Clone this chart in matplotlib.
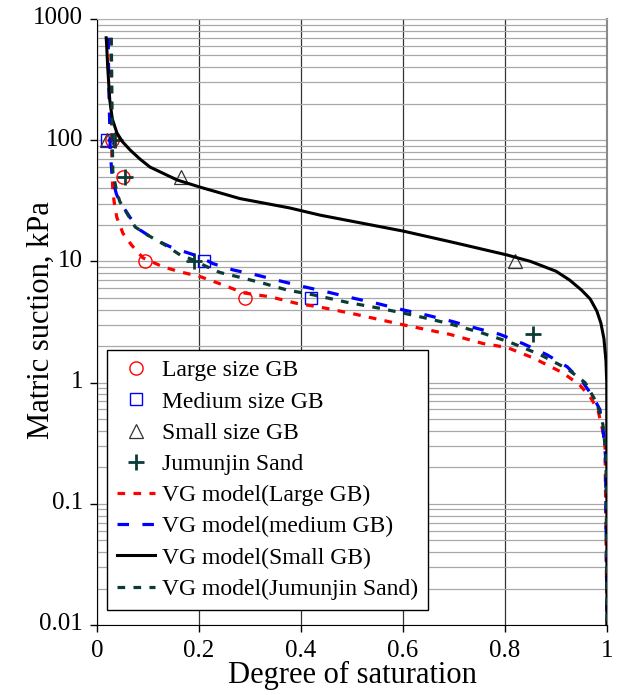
import numpy as np
import matplotlib
matplotlib.use('Agg')
import matplotlib.pyplot as plt
from matplotlib.ticker import FixedLocator, FixedFormatter, LogLocator, NullFormatter
from matplotlib.transforms import ScaledTranslation

plt.rcParams['font.family'] = ['Liberation Serif', 'DejaVu Serif']

# measured points
large_S = [0.03, 0.05, 0.095, 0.29]
large_psi = [100, 50, 10, 5]
medium_S = [0.02, 0.21, 0.42]
medium_psi = [100, 10, 5]
small_S = [0.02, 0.165, 0.82]
small_psi = [100, 50, 10]
jum_S = [0.035, 0.055, 0.19, 0.855]
jum_psi = [100, 50, 10, 2.5]

# VG model curves
vg_large_S = [0.027, 0.028, 0.029, 0.030, 0.031, 0.035, 0.039, 0.051, 0.068, 0.09, 0.13, 0.163,
              0.202, 0.247, 0.287, 0.34, 0.392, 0.437, 0.502, 0.6, 0.692, 0.757, 0.804, 0.855,
              0.914, 0.947, 0.967, 0.982, 0.99, 0.996, 1.0]
vg_large_psi = [700, 200, 80, 50, 38, 28, 23, 17, 13.6, 10.7, 9.0, 8.2,
                7.5, 6.4, 5.5, 5.1, 4.5, 4.2, 3.7, 3.0, 2.5, 2.1, 1.95, 1.6,
                1.2, 0.95, 0.76, 0.6, 0.43, 0.32, 0.01]

vg_medium_S = [0.022, 0.023, 0.025, 0.026, 0.029, 0.032, 0.038, 0.045, 0.065, 0.084, 0.114, 0.147,
               0.202, 0.227, 0.267, 0.314, 0.359, 0.404, 0.451, 0.5, 0.549, 0.598, 0.647, 0.696,
               0.745, 0.79, 0.835, 0.882, 0.922, 0.953, 0.973, 0.986, 0.992, 0.997, 1.0]
vg_medium_psi = [700, 300, 130, 80, 55, 45, 36, 31, 23, 18.2, 15.1, 13.0,
                 10.9, 9.6, 8.5, 7.7, 6.9, 6.2, 5.6, 5.0, 4.5, 4.0, 3.6, 3.2,
                 2.8, 2.5, 2.1, 1.7, 1.35, 1.0, 0.76, 0.6, 0.42, 0.25, 0.01]

vg_small_S = [0.018, 0.019, 0.021, 0.025, 0.030, 0.039, 0.05, 0.065, 0.084, 0.104, 0.157, 0.202,
              0.28, 0.378, 0.437, 0.6, 0.7, 0.804, 0.85, 0.9, 0.927, 0.95, 0.967, 0.98,
              0.988, 0.994, 0.998, 0.9995, 1.0]
vg_small_psi = [700, 600, 400, 215, 150, 115, 97, 83, 70, 60, 47, 41,
                33, 27.6, 24.1, 17.8, 14.3, 11.3, 10.0, 8.3, 7.0, 5.8, 4.9, 3.9,
                3.1, 2.3, 1.5, 1.0, 0.01]

vg_jum_S = [0.028, 0.029, 0.030, 0.031, 0.035, 0.039, 0.045, 0.055, 0.075, 0.098, 0.133, 0.163,
            0.188, 0.214, 0.241, 0.28, 0.326, 0.373, 0.424, 0.49, 0.555, 0.62, 0.686, 0.751,
            0.81, 0.869, 0.922, 0.957, 0.98, 0.992, 0.998, 1.0]
vg_jum_psi = [700, 300, 100, 55, 45, 37, 31, 26.5, 19.2, 16.6, 13.7, 11.3,
              10.3, 9.1, 8.1, 7.4, 6.6, 5.8, 5.3, 4.6, 4.1, 3.6, 3.1, 2.6,
              2.15, 1.7, 1.3, 1.0, 0.68, 0.45, 0.25, 0.01]

x_ticks = [0, 0.2, 0.4, 0.6, 0.8, 1]
x_labels = ['0', '0.2', '0.4', '0.6', '0.8', '1']
y_ticks = [0.01, 0.1, 1, 10, 100, 1000]
y_labels = ['0.01', '0.1', '1', '10', '100', '1000']

red = '#FF0000'
blue = '#0000FF'
dkgreen = '#0B3B36'

fig = plt.figure(figsize=(6.18, 6.95), dpi=100)
ax = fig.add_axes([97 / 618, 1 - 625 / 695, 510 / 618, 606 / 695])

ax.plot(large_S, large_psi, 'o', ms=9.5, mfc='none', mec=red, mew=1.0, label='Large size GB', zorder=3)
ax.plot(medium_S, medium_psi, 's', ms=9, mfc='none', mec=blue, mew=1.0, label='Medium size GB', zorder=3)
ax.plot(small_S, small_psi, '^', ms=10, mfc='none', mec='#333333', mew=0.9, label='Small size GB', zorder=3)
ax.plot(jum_S, jum_psi, '+', ms=11, mec=dkgreen, mew=2.0, label='Jumunjin Sand', zorder=3)

ax.plot(vg_large_S, vg_large_psi, color=red, lw=2.3, dashes=(2.4, 2.6), label='VG model(Large GB)', zorder=4)
ax.plot(vg_medium_S, vg_medium_psi, color=blue, lw=2.3, dashes=(3.6, 4.2), label='VG model(medium GB)', zorder=4)
ax.plot(vg_small_S, vg_small_psi, color='black', lw=2.2, label='VG model(Small GB)', zorder=4)
ax.plot(vg_jum_S, vg_jum_psi, color=dkgreen, lw=2.3, dashes=(2.4, 2.6), label='VG model(Jumunjin Sand)', zorder=4)

ax.set_yscale('log')
ax.set_xlim(0, 1)
ax.set_ylim(0.01, 1000)

ax.xaxis.set_major_locator(FixedLocator(x_ticks))
ax.xaxis.set_major_formatter(FixedFormatter(x_labels))
ax.yaxis.set_major_locator(FixedLocator(y_ticks))
ax.yaxis.set_major_formatter(FixedFormatter(y_labels))
ax.yaxis.set_minor_locator(LogLocator(base=10, subs=np.arange(2, 10)))
ax.yaxis.set_minor_formatter(NullFormatter())

ax.tick_params(axis='both', which='major', direction='out', length=5, width=1, labelsize=18, colors='black')
ax.tick_params(axis='x', which='major', pad=6)
ax.tick_params(axis='y', which='major', pad=5)
ax.tick_params(axis='y', which='minor', length=0)

ax.grid(True, axis='y', which='both', color='#a8a8a8', lw=0.9)
ax.grid(True, axis='x', which='major', color='#333333', lw=0.9)
ax.set_axisbelow(True)

ax.spines['left'].set_color('black')
ax.spines['bottom'].set_color('black')
ax.spines['top'].set_color('#b0b0b0')
ax.spines['right'].set_color('#8a8a8a')
ax.spines['right'].set_linewidth(1.5)

ax.set_xlabel('Degree of saturation', fontsize=22)
ax.set_ylabel('Matric suction, kPa', fontsize=22)
ax.xaxis.set_label_coords(0.5, -0.0594)
ax.yaxis.set_label_coords(-0.08, 0.503)

# excel puts the y tick labels a bit above the ticks
for lab in ax.get_yticklabels():
    lab.set_transform(lab.get_transform() + ScaledTranslation(0, 3 / 100, fig.dpi_scale_trans))

leg = ax.legend(loc='lower left', bbox_to_anchor=(0.0196, 0.025), fontsize=17, frameon=True,
                fancybox=False, shadow=False, edgecolor='black', framealpha=1,
                handlelength=1.6, handletextpad=0.3, labelspacing=0.41, borderpad=0.42,
                borderaxespad=0)
leg.get_frame().set_linewidth(1.0)

fig.savefig('out.png', dpi=100)
